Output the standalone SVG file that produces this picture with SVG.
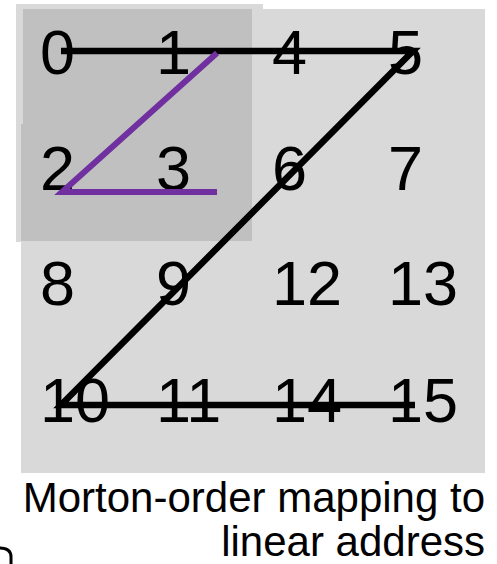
<svg xmlns="http://www.w3.org/2000/svg" width="497" height="564" viewBox="0 0 497 564">
<style>
.num{font-family:"Liberation Sans",Arial,sans-serif;font-size:63px;fill:#000}
.cap{font-family:"Liberation Sans",Arial,sans-serif;font-size:42px;fill:#000;text-anchor:end}
.blk{stroke:#000;stroke-width:6.5;fill:none}
.pur{stroke:#7030a0;stroke-width:6;fill:none}
</style>
<rect width="497" height="564" fill="#fff"/>
<g id="background">
<rect x="16" y="4" width="247" height="238" fill="#d9d9d9"/>
<rect x="21" y="9" width="464" height="464" fill="#d9d9d9"/>
<path d="M23,9 H252 V241 H21 V124 H23 Z" fill="#c0c0c0"/>
</g>
<g id="numbers">
<g id="n0"><text class="num" x="40" y="74">0</text></g>
<g id="n1"><text class="num" x="156" y="74">1</text></g>
<g id="n4"><text class="num" x="272" y="74">4</text></g>
<g id="n5"><text class="num" x="388" y="74">5</text></g>
<g id="n2"><text class="num" x="40" y="190">2</text></g>
<g id="n3"><text class="num" x="156" y="190">3</text></g>
<g id="n6"><text class="num" x="272" y="190">6</text></g>
<g id="n7"><text class="num" x="388" y="190">7</text></g>
<g id="n8"><text class="num" x="40" y="305">8</text></g>
<g id="n9"><text class="num" x="156" y="305">9</text></g>
<g id="n12"><text class="num" x="272" y="305">12</text></g>
<g id="n13"><text class="num" x="388" y="305">13</text></g>
<g id="n10"><text class="num" x="40" y="422">10</text></g>
<g id="n11"><text class="num" x="156" y="422">11</text></g>
<g id="n14"><text class="num" x="272" y="422">14</text></g>
<g id="n15"><text class="num" x="388" y="422">15</text></g>
</g>
<g id="connectors">
<path class="blk" d="M61,51 H413 L61,405 H415"/>
<path class="pur" d="M217,53 L62,192 H217"/>
</g>
<g id="caption">
<text class="cap" x="485" y="512">Morton-order mapping to</text>
<text class="cap" x="485" y="556">linear address</text>
</g>
<path d="M0,548 Q11,548 11,557 V564" stroke="#000" stroke-width="3" fill="none"/>
</svg>
